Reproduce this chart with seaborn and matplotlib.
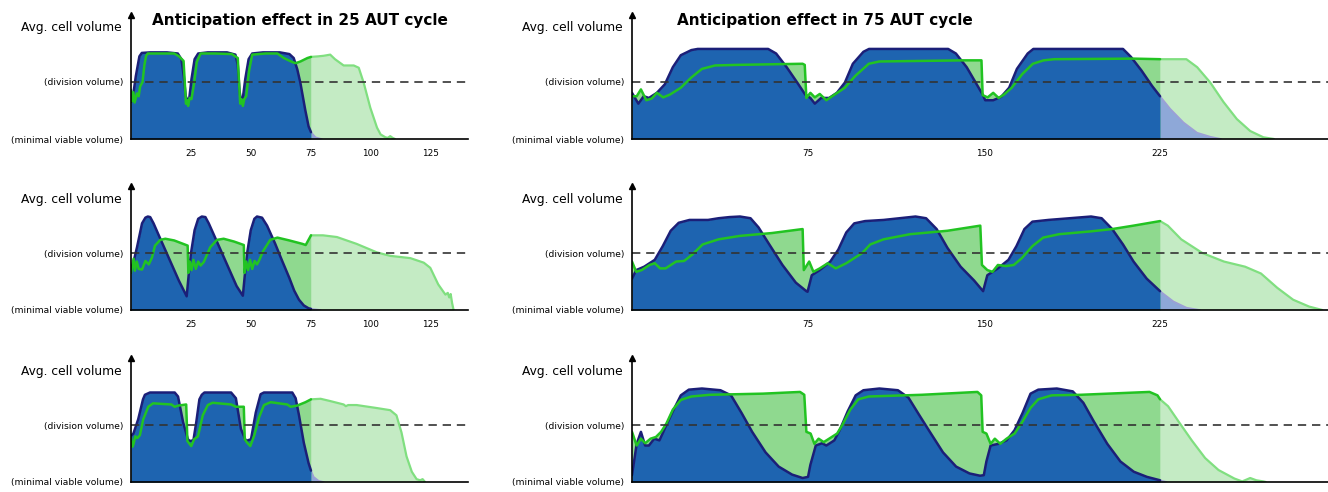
import numpy as np
import matplotlib
matplotlib.use("Agg")
import matplotlib.pyplot as plt
import seaborn as sns

# avg. cell volume, 0 = minimal viable volume, 1 = division volume
# base = non anticipating population (blue), antic = anticipating population (green)

# --- 25 AUT cycle (left column) ---
l1_base_x = [0, 0.6, 2, 3.5, 4.5, 8, 15, 19.5, 21, 22, 22.8, 23.5, 24.3, 25.2, 26.5, 28, 32, 40,
             43.5, 44.5, 45.2, 45.8, 46.6, 47.6, 49, 50.5, 55, 62, 66, 67.8, 69.3, 70.6, 72.6, 74,
             75, 76.9, 78.5, 79.5]
l1_base_y = [0.65, 0.68, 1.1, 1.45, 1.51, 1.52, 1.52, 1.5, 1.4, 1.1, 0.75, 0.68, 0.72, 1.05, 1.4,
             1.5, 1.52, 1.52, 1.48, 1.3, 0.85, 0.68, 0.72, 1.05, 1.4, 1.5, 1.52, 1.52, 1.49, 1.42,
             1.22, 0.98, 0.51, 0.22, 0.12, 0.03, 0.01, 0]
l1_antic_x = [0, 0.4, 1.0, 1.5, 2.5, 3.2, 3.8, 4.8, 5.6, 6.3, 7, 12, 18, 20, 21.9, 22.4, 22.9, 23.4,
              23.8, 24.4, 25.2, 26.2, 27.4, 29, 35, 42, 44.5, 45, 45.5, 46, 46.6, 47.2, 48, 49.2,
              50.5, 56, 61, 63.7, 67.2, 68.6, 70.6, 73.5, 75, 78, 80.3, 83, 85, 88.6, 92.8, 94.9,
              97, 99.7, 102.5, 104, 106, 107, 108, 109, 110]
l1_antic_y = [0.86, 0.66, 0.82, 0.64, 0.80, 0.75, 0.92, 1.0, 1.3, 1.46, 1.5, 1.5, 1.5, 1.45, 1.37,
              1.0, 0.62, 0.68, 0.58, 0.72, 0.7, 0.95, 1.35, 1.5, 1.5, 1.49, 1.42, 1.0, 0.62, 0.7,
              0.58, 0.7, 0.75, 1.2, 1.48, 1.5, 1.5, 1.42, 1.35, 1.33, 1.36, 1.42, 1.44, 1.45, 1.46,
              1.48, 1.4, 1.29, 1.29, 1.25, 0.98, 0.55, 0.2, 0.08, 0.03, 0.02, 0.05, 0.02, 0]

l2_base_x = [0, 0.8, 2.5, 4.6, 6, 7, 8, 9.4, 12, 16, 20, 23.2, 24, 25, 26.5, 28, 29.5, 31, 32.4,
             36, 40, 44, 46.6, 47.4, 48.4, 49.9, 51.4, 52.5, 54.6, 56.7, 60, 63, 66, 68, 70, 72,
             74, 75, 77, 79]
l2_base_y = [0.75, 0.8, 1.1, 1.52, 1.62, 1.64, 1.63, 1.52, 1.27, 0.89, 0.51, 0.24, 0.6, 1.0, 1.4,
             1.6, 1.64, 1.63, 1.52, 1.18, 0.8, 0.42, 0.25, 0.6, 1.0, 1.4, 1.6, 1.64, 1.62, 1.48,
             1.17, 0.86, 0.56, 0.34, 0.18, 0.08, 0.03, 0.02, 0.01, 0]
l2_antic_x = [0, 1.1, 1.6, 2.4, 3.2, 4.6, 6, 7.4, 8.75, 10, 12.2, 14.3, 18, 23.6, 23.9, 24.5, 25.2,
              26, 27, 28, 29, 30.3, 33, 35.8, 38.6, 43, 47, 47.3, 48, 48.8, 49.6, 50.5, 51.5,
              52.5, 53.5, 55, 58, 61, 66, 71.4, 72.8, 75, 80, 85.8, 94, 102.5, 108, 116.4, 122,
              124.7, 128, 131, 132, 132.6, 133.2, 133.8, 134.4]
l2_antic_y = [0.65, 0.9, 0.69, 0.85, 0.72, 0.71, 0.86, 0.8, 0.92, 1.13, 1.23, 1.25, 1.22, 1.13,
              0.65, 0.85, 0.7, 0.88, 0.72, 0.85, 0.78, 0.84, 1.1, 1.23, 1.25, 1.2, 1.14, 0.65,
              0.85, 0.7, 0.88, 0.72, 0.86, 0.8, 0.88, 1.03, 1.23, 1.27, 1.22, 1.16, 1.14, 1.31,
              1.31, 1.28, 1.16, 1.01, 0.95, 0.91, 0.83, 0.74, 0.45, 0.27, 0.3, 0.22, 0.28, 0.12, 0]

l3_base_x = [0, 1, 3, 5, 5.8, 7.9, 18.2, 19.6, 21.7, 23.7, 24.5, 26, 27.2, 28.5, 29.5, 30.6, 41.7,
             43.7, 45.8, 47.9, 50, 52, 54, 55.4, 67.2, 68.6, 70, 72, 74, 75, 76.1, 78.2, 80.3]
l3_base_y = [0.81, 0.85, 1.1, 1.45, 1.53, 1.57, 1.57, 1.5, 1.05, 0.75, 0.72, 0.73, 1.05, 1.45,
             1.53, 1.57, 1.57, 1.47, 0.93, 0.72, 0.75, 1.22, 1.54, 1.57, 1.57, 1.47, 1.17, 0.69,
             0.33, 0.2, 0.09, 0.02, 0]
l3_antic_x = [0, 0.6, 1, 1.8, 2.6, 3.7, 5.1, 7.2, 9.2, 16.8, 18.2, 19.6, 23, 23.5, 24.2, 25.1,
              26.3, 27.9, 29.9, 32, 34, 41.7, 43.7, 47.0, 47.4, 48.2, 49.7, 51.3, 53.4, 55.4, 58.2,
              65.1, 66.5, 69.2, 72.7, 75, 79, 83, 88.6, 89.5, 90.5, 94, 102, 108, 110.6, 112.7,
              114.8, 117, 119, 120.5, 121.5, 122.5]
l3_antic_y = [0.78, 0.62, 0.66, 0.8, 0.77, 0.82, 1.1, 1.32, 1.38, 1.36, 1.32, 1.34, 1.36, 0.72,
              0.68, 0.63, 0.75, 0.8, 1.17, 1.35, 1.39, 1.36, 1.32, 1.32, 0.75, 0.7, 0.63, 0.81,
              1.14, 1.35, 1.4, 1.36, 1.32, 1.34, 1.4, 1.45, 1.46, 1.42, 1.36, 1.33, 1.35, 1.35,
              1.3, 1.26, 1.17, 0.87, 0.45, 0.18, 0.05, 0.03, 0.05, 0]

# --- 75 AUT cycle (right column) ---
r1_base_x = [0, 2.7, 5, 7.2, 10.6, 14, 17.4, 20.8, 25.3, 28, 58, 61.4, 65.9, 70.4, 73.8, 76, 77.9,
             80.6, 84, 87.3, 90.7, 94.1, 98.6, 101, 134.7, 138, 142.6, 146, 149.4, 150.5, 153.9,
             157.3, 160.7, 164, 168.6, 171, 209.2, 212.6, 217.1, 221.6, 225, 229.3, 235, 240.8,
             246.4, 251]
r1_base_y = [0.81, 0.62, 0.75, 0.72, 0.81, 0.96, 1.26, 1.47, 1.56, 1.58, 1.58, 1.5, 1.26, 0.99,
             0.78, 0.72, 0.62, 0.72, 0.72, 0.81, 0.99, 1.32, 1.53, 1.58, 1.58, 1.5, 1.26, 1.02,
             0.78, 0.68, 0.68, 0.74, 0.9, 1.23, 1.5, 1.58, 1.58, 1.44, 1.2, 0.93, 0.75, 0.53,
             0.29, 0.11, 0.04, 0]
r1_antic_x = [0, 2, 3.8, 6.1, 8.4, 10.6, 13.3, 16.2, 20.8, 25.3, 29.8, 35.4, 44.5, 72.7, 73.6,
              74.3, 76, 77.9, 80, 82.8, 86, 90.7, 95.2, 100.9, 105.4, 141.5, 148.9, 149.4, 151.5,
              153.9, 156.2, 158.5, 161.8, 166.3, 170.8, 175.4, 179.9, 213.7, 225, 236.2, 240.8,
              246.4, 252, 257.7, 263.4, 269, 273.5]
r1_antic_y = [0.75, 0.75, 0.87, 0.68, 0.71, 0.81, 0.73, 0.78, 0.9, 1.08, 1.23, 1.29, 1.3, 1.32,
              1.3, 0.72, 0.81, 0.73, 0.79, 0.68, 0.77, 0.9, 1.11, 1.32, 1.36, 1.38, 1.38, 0.77,
              0.73, 0.81, 0.72, 0.78, 0.9, 1.14, 1.32, 1.38, 1.4, 1.41, 1.4, 1.4, 1.26, 0.99,
              0.65, 0.35, 0.14, 0.03, 0]

r2_base_x = [0, 1.8, 5.2, 9.7, 13.1, 16.5, 19.9, 24.5, 32.4, 36.9, 41.5, 46, 50.5, 53.9, 58.5,
             64.1, 69.8, 74.3, 74.8, 76.6, 80, 84.5, 87.9, 91.3, 94.7, 99.3, 107.2, 114, 120.8,
             125.3, 129.8, 134.4, 140, 145.7, 149.6, 151.4, 155.9, 160.4, 163.8, 167.2, 170.6,
             177.4, 186.5, 195.6, 200.1, 204.6, 209.2, 213.7, 219.3, 225, 230.7, 236.3, 242]
r2_base_y = [0.55, 0.7, 0.76, 0.88, 1.12, 1.39, 1.53, 1.58, 1.58, 1.61, 1.63, 1.64, 1.61, 1.45,
             1.15, 0.79, 0.48, 0.33, 0.32, 0.61, 0.7, 0.85, 1.06, 1.36, 1.52, 1.56, 1.58, 1.61,
             1.64, 1.61, 1.42, 1.09, 0.76, 0.52, 0.33, 0.61, 0.73, 0.88, 1.12, 1.42, 1.55, 1.58,
             1.61, 1.64, 1.61, 1.42, 1.15, 0.85, 0.55, 0.33, 0.15, 0.04, 0]
r2_antic_x = [0, 1.8, 4.1, 7.5, 9.7, 12, 14.3, 18.8, 22.2, 25.6, 30.1, 36.9, 46, 59.6, 72.7, 73.2,
              75.5, 77.3, 80, 83.4, 86.8, 91.3, 94.7, 98.1, 101.5, 107.2, 118.5, 134.4, 148.4,
              149.1, 151.4, 153.6, 155.9, 159.3, 162.7, 166.1, 170.6, 175.2, 182, 195.6, 204.6,
              213.7, 225, 228.3, 234, 243, 252.2, 261.2, 268, 274.9, 281.7, 288.5, 294.1]
r2_antic_y = [0.85, 0.67, 0.7, 0.79, 0.82, 0.73, 0.73, 0.85, 0.86, 0.97, 1.15, 1.24, 1.3, 1.35,
              1.42, 0.7, 0.85, 0.67, 0.73, 0.82, 0.73, 0.82, 0.91, 1.0, 1.15, 1.24, 1.33, 1.39,
              1.48, 0.79, 0.7, 0.67, 0.79, 0.77, 0.79, 0.91, 1.12, 1.27, 1.33, 1.38, 1.42, 1.48,
              1.56, 1.48, 1.24, 1.0, 0.85, 0.76, 0.64, 0.39, 0.18, 0.06, 0]

r3_base_x = [0, 2, 3.8, 5.6, 7.2, 9.5, 11.7, 14, 17.4, 20.8, 24.2, 29.8, 37.7, 42.2, 46.7, 51.2,
             56.9, 62.5, 68.2, 72.7, 75, 76, 78.3, 81, 82.8, 86.2, 88.5, 91.9, 95.3, 98.6, 105.4,
             113.3, 117.8, 122.3, 126.9, 132.5, 138.1, 143.8, 148.3, 149.9, 151, 152.8, 156.2,
             159.6, 163, 166.4, 169.8, 173.1, 181, 187.8, 192.3, 196.8, 202.5, 208.1, 213.8,
             219.4, 225, 227.8]
r3_base_y = [0.12, 0.67, 0.88, 0.64, 0.64, 0.76, 0.73, 0.94, 1.24, 1.52, 1.62, 1.64, 1.61, 1.52,
             1.21, 0.88, 0.52, 0.27, 0.13, 0.07, 0.09, 0.3, 0.64, 0.68, 0.64, 0.73, 0.91, 1.24,
             1.52, 1.61, 1.64, 1.61, 1.48, 1.18, 0.88, 0.52, 0.27, 0.15, 0.11, 0.12, 0.36, 0.64,
             0.67, 0.73, 0.91, 1.21, 1.55, 1.62, 1.64, 1.59, 1.39, 1.06, 0.67, 0.36, 0.18, 0.09,
             0.03, 0]
r3_antic_x = [0, 2, 3.8, 5.6, 7.9, 10.2, 12.4, 14.7, 17.4, 20.8, 25.3, 33.2, 55.8, 71.6, 73.4,
              74.3, 76.1, 77.7, 79.5, 81.7, 84, 87.4, 89.6, 93, 96.4, 100.9, 123.5, 147.2, 148.8,
              149.4, 151, 152.8, 154.6, 156.9, 159.6, 163, 166.4, 169.8, 173.1, 178.8, 191.2,
              220.5, 223.9, 225, 228.4, 232.9, 238.5, 244.2, 249.9, 256.7, 260, 263.4, 266, 269,
              270]
r3_antic_y = [0.88, 0.64, 0.76, 0.68, 0.76, 0.79, 0.88, 1.03, 1.27, 1.44, 1.5, 1.53, 1.55, 1.58,
              1.53, 0.88, 0.85, 0.67, 0.76, 0.7, 0.76, 0.85, 1.0, 1.27, 1.45, 1.5, 1.53, 1.58,
              1.52, 0.88, 0.85, 0.67, 0.76, 0.67, 0.76, 0.85, 1.06, 1.3, 1.45, 1.52, 1.53, 1.58,
              1.52, 1.45, 1.33, 1.06, 0.73, 0.42, 0.21, 0.06, 0.01, 0.07, 0.03, 0.01, 0]

left_ticks = [0, 25, 50, 75, 100, 125]
right_ticks = [0, 75, 150, 225]
titles = ["Anticipation effect in 25 AUT cycle", "Anticipation effect in 75 AUT cycle"]

BLUE = "#1e64b0"
NAVY = "#1b1f78"
GREEN = "#22c322"
MID_GREEN = "#8fd98f"
PALE_GREEN = "#c4ebc4"
PALE_GREEN_LINE = "#80df80"
PALE_BLUE = "#8ea8d8"
PALE_NAVY = "#9d9fd6"

sns.set_theme(style="white", rc={"text.color": "black", "axes.labelcolor": "black"})
plt.rcParams["font.family"] = ["DejaVu Sans"]

W, H = 1328, 492
fig = plt.figure(figsize=(W / 100, H / 100), dpi=100)

ROW_BOTTOM = [139, 310, 482]
AX_H = 124
COLS = [(131, 468, 2.4, 75, left_ticks), (632, 1328, 2.347, 225, right_ticks)]
YMAX = AX_H / 57


def draw_panel(ax, base_x, base_y, antic_x, antic_y, cut):
    bx, by = np.asarray(base_x), np.asarray(base_y)
    gx, gy = np.asarray(antic_x), np.asarray(antic_y)
    b_in, b_out = bx <= cut, bx >= cut
    g_in, g_out = gx <= cut, gx >= cut

    # faded part after the last cycle
    ax.fill_between(gx[g_out], 0, gy[g_out], color=PALE_GREEN, lw=0, zorder=1)
    sns.lineplot(x=gx[g_out], y=gy[g_out], ax=ax, color=PALE_GREEN_LINE, lw=1.6,
                 estimator=None, sort=False, zorder=2)
    ax.fill_between(bx[b_out], 0, by[b_out], color=PALE_BLUE, lw=0, zorder=2.5)
    sns.lineplot(x=bx[b_out], y=by[b_out], ax=ax, color=PALE_NAVY, lw=1.2,
                 estimator=None, sort=False, zorder=2.6)

    # green shows through where anticipating cells are bigger
    ax.fill_between(gx[g_in], 0, gy[g_in], color=MID_GREEN, lw=0, zorder=3)
    ax.fill_between(bx[b_in], 0, by[b_in], color=BLUE, lw=0, zorder=4)
    sns.lineplot(x=bx[b_in], y=by[b_in], ax=ax, color=NAVY, lw=1.8,
                 estimator=None, sort=False, zorder=5)
    sns.lineplot(x=gx[g_in], y=gy[g_in], ax=ax, color=GREEN, lw=1.8,
                 estimator=None, sort=False, zorder=6)
    ax.axhline(1, color="#333333", lw=1.2, ls=(0, (5, 3.5)), zorder=7)


data = [
    [(l1_base_x, l1_base_y, l1_antic_x, l1_antic_y), (r1_base_x, r1_base_y, r1_antic_x, r1_antic_y)],
    [(l2_base_x, l2_base_y, l2_antic_x, l2_antic_y), (r2_base_x, r2_base_y, r2_antic_x, r2_antic_y)],
    [(l3_base_x, l3_base_y, l3_antic_x, l3_antic_y), (r3_base_x, r3_base_y, r3_antic_x, r3_antic_y)],
]

for r, bottom in enumerate(ROW_BOTTOM):
    for c, (x0, x1, scale, cut, ticks) in enumerate(COLS):
        ax = fig.add_axes([x0 / W, 1 - bottom / H, (x1 - x0) / W, AX_H / H])
        draw_panel(ax, *data[r][c], cut)
        ax.set_xlim(0, (x1 - x0) / scale)
        ax.set_ylim(0, YMAX)
        ax.set_xlabel("")
        ax.set_ylabel("")
        ax.set_xticks(ticks)
        if r < 2:
            ax.set_xticklabels([""] + [str(t) for t in ticks[1:]])
        else:
            ax.set_xticklabels([""] * len(ticks))
        ax.set_yticks([0, 1])
        ax.set_yticklabels(["(minimal viable volume)", "(division volume)"])
        ax.tick_params(axis="both", direction="out", length=4, width=1, labelsize=6.6,
                       colors="black", pad=1.5)
        ax.tick_params(axis="x", labelsize=6.4, pad=3)
        for side in ["top", "right"]:
            ax.spines[side].set_visible(False)
        for side in ["left", "bottom"]:
            ax.spines[side].set_color("black")
            ax.spines[side].set_linewidth(1.2)
            ax.spines[side].set_zorder(9)
        ax.plot(0, 1, marker="^", color="black", markersize=5, transform=ax.transAxes,
                clip_on=False, zorder=10)
        ax.annotate("Avg. cell volume", xy=(0, 1), xycoords="axes fraction",
                    xytext=(-9, -13), textcoords="offset pixels", ha="right", va="center",
                    fontsize=8.8, color="black")
        ax.patch.set_alpha(0)

fig.text(300 / W, 1 - 20 / H, titles[0], ha="center", va="center", fontsize=11,
         fontweight="bold", color="black")
fig.text(825 / W, 1 - 20 / H, titles[1], ha="center", va="center", fontsize=11,
         fontweight="bold", color="black")

fig.savefig("out.png", dpi=100)
